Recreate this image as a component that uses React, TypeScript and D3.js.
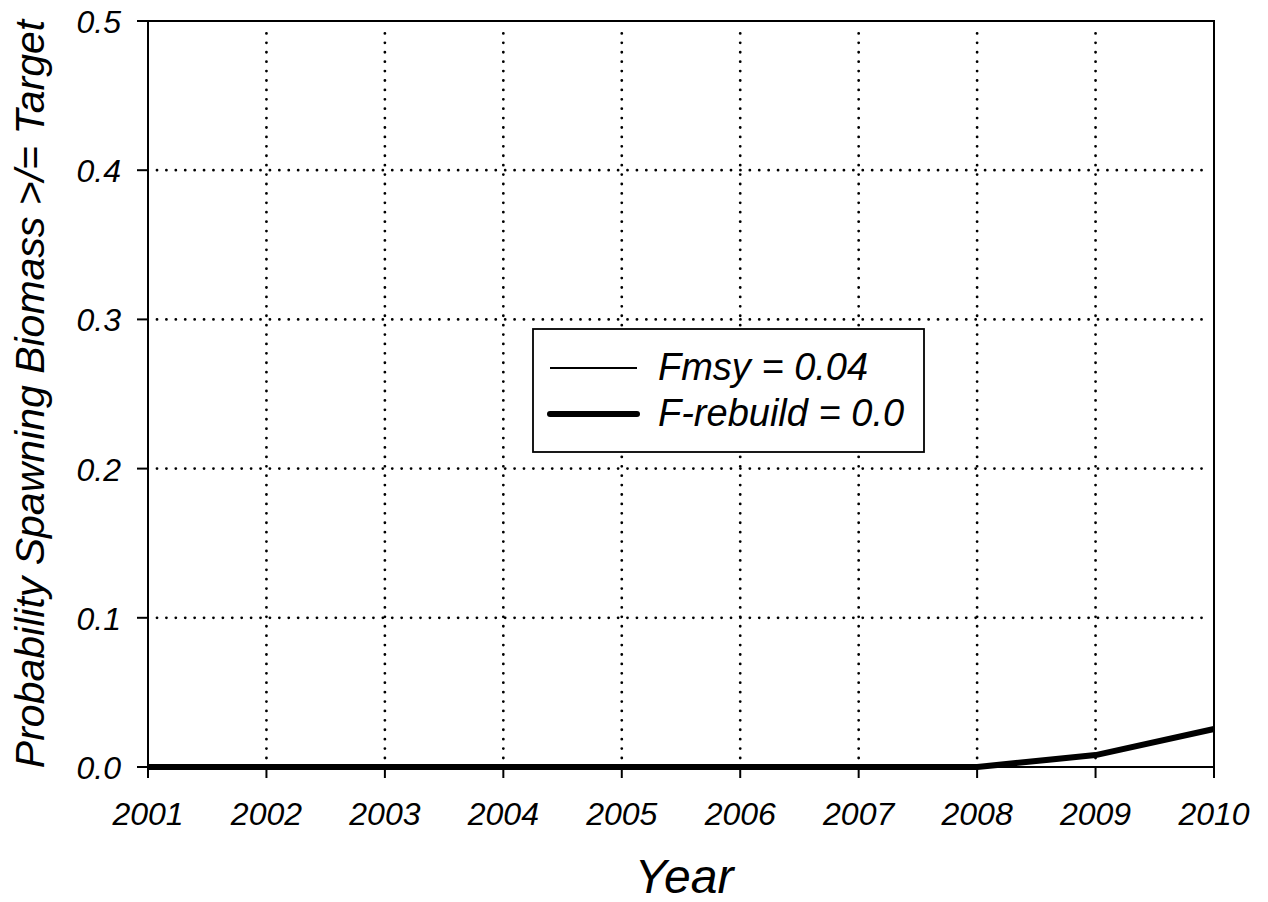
import React from "react";
import * as d3 from "d3";

const years = [2001, 2002, 2003, 2004, 2005, 2006, 2007, 2008, 2009, 2010];
const fmsyValues = [0, 0, 0, 0, 0, 0, 0, 0, 0, 0];
const rebuildValues = [0, 0, 0, 0, 0, 0, 0, 0, 0.008, 0.0255];
const yTicks = [0, 0.1, 0.2, 0.3, 0.4, 0.5];
const seriesNames = ["Fmsy = 0.04", "F-rebuild = 0.0"];

const W = 1268;
const H = 902;
const M = { left: 148, right: 1214, top: 21, bottom: 767 };
const FONT = "Arial, 'Liberation Sans', sans-serif";

export default function App() {
  const x = d3.scaleLinear().domain([2001, 2010]).range([M.left, M.right]);
  const y = d3.scaleLinear().domain([0, 0.5]).range([M.bottom, M.top]);
  const line = d3
    .line<[number, number]>()
    .x((d) => x(d[0]))
    .y((d) => y(d[1]));
  const fmsy = years.map((yr, i) => [yr, fmsyValues[i]] as [number, number]);
  const reb = years.map((yr, i) => [yr, rebuildValues[i]] as [number, number]);

  const dot = { stroke: "#000", strokeWidth: 2.8, strokeLinecap: "round" as const, strokeDasharray: "0.01 9.4" };

  return (
    <svg width={W} height={H} style={{ position: "absolute", left: 0, top: 0, background: "#fff" }}>
      {/* grid */}
      {years.slice(1, -1).map((yr) => (
        <line key={"gx" + yr} x1={x(yr)} x2={x(yr)} y1={M.bottom - 9} y2={M.top + 9} {...dot} />
      ))}
      {yTicks.slice(1, -1).map((v) => (
        <line key={"gy" + v} x1={M.left + 9} x2={M.right - 4} y1={y(v)} y2={y(v)} {...dot} />
      ))}
      {/* frame */}
      <rect x={M.left} y={M.top} width={M.right - M.left} height={M.bottom - M.top} fill="none" stroke="#000" strokeWidth={2} />
      {/* ticks */}
      {years.map((yr) => (
        <g key={"tx" + yr}>
          <line x1={x(yr)} x2={x(yr)} y1={M.bottom} y2={M.bottom + 11} stroke="#000" strokeWidth={2} />
          <text x={x(yr)} y={825} textAnchor="middle" fontFamily={FONT} fontStyle="italic" fontSize={32}>
            {yr}
          </text>
        </g>
      ))}
      {yTicks.map((v) => (
        <g key={"ty" + v}>
          <line x1={M.left - 11} x2={M.left} y1={y(v)} y2={y(v)} stroke="#000" strokeWidth={2} />
          <text x={121} y={y(v) + 12} textAnchor="end" fontFamily={FONT} fontStyle="italic" fontSize={32}>
            {d3.format(".1f")(v)}
          </text>
        </g>
      ))}
      {/* data */}
      <path d={line(fmsy) || ""} fill="none" stroke="#000" strokeWidth={1.8} />
      <path d={line(reb) || ""} fill="none" stroke="#000" strokeWidth={6} strokeLinejoin="round" />
      {/* legend */}
      <rect x={533} y={329} width={391} height={123} fill="#fff" stroke="#000" strokeWidth={1.8} />
      <line x1={550} x2={637} y1={368} y2={368} stroke="#000" strokeWidth={1.8} />
      <line x1={550} x2={637} y1={414} y2={414} stroke="#000" strokeWidth={6} strokeLinecap="round" />
      <text x={658} y={380} fontFamily={FONT} fontStyle="italic" fontSize={38}>
        {seriesNames[0]}
      </text>
      <text x={658} y={426} fontFamily={FONT} fontStyle="italic" fontSize={38}>
        {seriesNames[1]}
      </text>
      {/* axis titles */}
      <text x={684} y={893} textAnchor="middle" fontFamily={FONT} fontStyle="italic" fontSize={48}>
        Year
      </text>
      <text
        transform={`translate(44, ${(M.top + M.bottom) / 2}) rotate(-90)`}
        textAnchor="middle"
        fontFamily={FONT}
        fontStyle="italic"
        fontSize={41}
      >
        Probability Spawning Biomass &gt;/= Target
      </text>
    </svg>
  );
}
